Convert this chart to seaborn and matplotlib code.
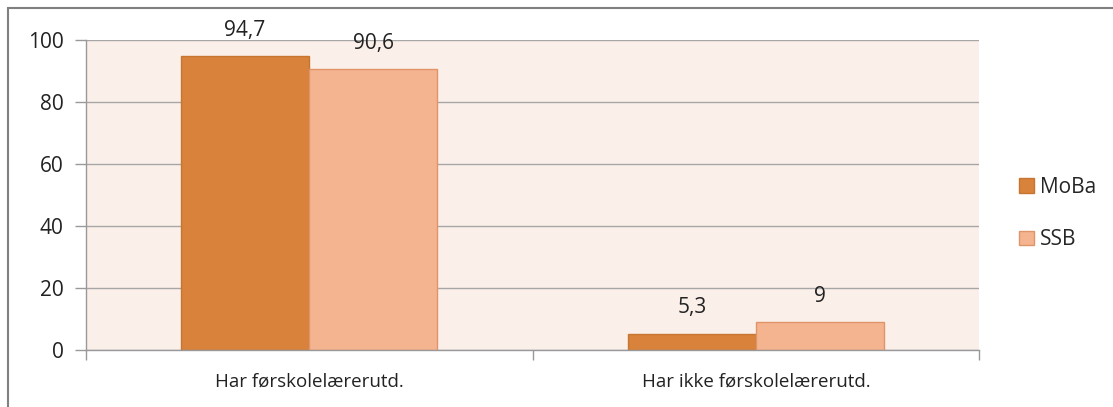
import matplotlib
matplotlib.use("Agg")
import matplotlib.pyplot as plt
import seaborn as sns
import pandas as pd
from matplotlib.patches import Rectangle

# data
categories = ["Har førskolelærerutd.", "Har ikke førskolelærerutd."]
series = ["MoBa", "SSB"]
moba = [94.7, 5.3]
ssb = [90.6, 9]
value_labels = {"MoBa": ["94,7", "5,3"], "SSB": ["90,6", "9"]}
yticks = [0, 20, 40, 60, 80, 100]

colors = {"MoBa": "#D8823C", "SSB": "#F5B490"}
edges = {"MoBa": "#C87530", "SSB": "#E0946A"}

df = pd.DataFrame({
    "kategori": categories * 2,
    "kilde": ["MoBa"] * 2 + ["SSB"] * 2,
    "verdi": moba + ssb,
})

sns.set_style("white")
plt.rcParams["font.family"] = ["Open Sans", "DejaVu Sans"]

fig = plt.figure(figsize=(11.13, 4.07), dpi=100)
ax = fig.add_axes([0.077, 0.140, 0.803, 0.762])
ax.set_facecolor("#FBEFEA")

sns.barplot(data=df, x="kategori", y="verdi", hue="kilde", order=categories,
            hue_order=series, palette=colors, saturation=1, width=0.573, gap=0,
            linewidth=1, ax=ax, legend=False)

# bar edges + value labels
for container, name in zip(ax.containers, series):
    for bar, lab in zip(container, value_labels[name]):
        bar.set_edgecolor(edges[name])
        ax.annotate(lab, (bar.get_x() + bar.get_width() / 2, bar.get_height()),
                    xytext=(0, 18.5), textcoords="offset points",
                    ha="center", va="center", fontsize=15, color="#222222")

ax.set_xlim(-0.5, 1.5)
ax.set_ylim(0, 100)
ax.set_yticks(yticks)
ax.set_yticklabels([str(t) for t in yticks], fontsize=15, color="#222222")
ax.tick_params(axis="y", length=8, width=1, color="#999999", pad=8, left=True)
ax.set_xticks([0, 1])
ax.set_xticklabels(categories, fontsize=13.5, color="#222222")
ax.tick_params(axis="x", length=0, pad=16)
ax.set_xticks([-0.5, 0.5, 1.5], minor=True)
ax.tick_params(axis="x", which="minor", length=7, width=1, color="#999999", bottom=True)
ax.yaxis.grid(True, color="#A6A6A6", linewidth=1)
ax.set_axisbelow(True)
ax.set_xlabel("")
ax.set_ylabel("")
for s in ["top", "right"]:
    ax.spines[s].set_visible(False)
for s in ["left", "bottom"]:
    ax.spines[s].set_color("#999999")
    ax.spines[s].set_linewidth(1)

handles = [Rectangle((0, 0), 1, 1, facecolor=colors[n], edgecolor=edges[n]) for n in series]
fig.legend(handles, series, loc="center left", bbox_to_anchor=(0.899, 0.475),
           frameon=False, fontsize=15, handlelength=0.7, handleheight=0.7,
           handletextpad=0.3, labelspacing=1.5)

# outer frame of the chart (only left and top show)
fig.patches.append(Rectangle((8 / 1113, -0.2), 1.2, 1.2 - 8 / 407,
                             transform=fig.transFigure, fill=False,
                             edgecolor="#808080", linewidth=1.5))

fig.savefig("out.png", dpi=100)
